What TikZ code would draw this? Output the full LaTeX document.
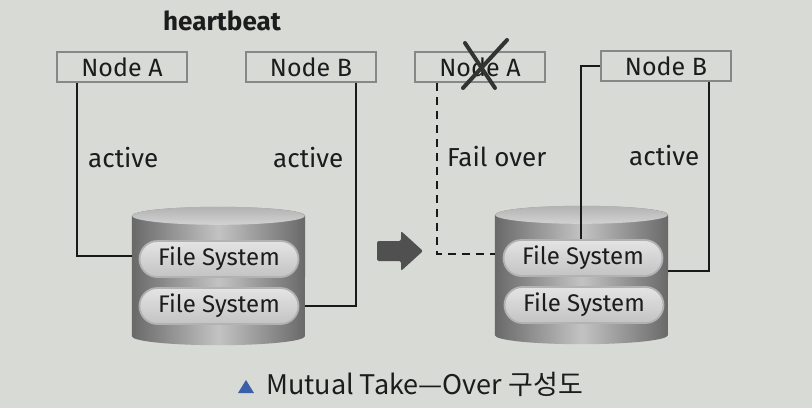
\documentclass[tikz,border=0pt]{standalone}
\usepackage{fontspec}
\setmainfont{Fira Sans}
\newfontfamily\cjkfont{Noto Sans CJK KR}
\usetikzlibrary{calc}
\definecolor{bgc}{RGB}{216,218,214}
\definecolor{txt}{RGB}{28,28,28}
\definecolor{boxline}{RGB}{135,135,135}
\definecolor{cylA}{RGB}{105,105,105}
\definecolor{cylB}{RGB}{195,195,195}
\definecolor{pillT}{RGB}{228,228,228}
\definecolor{pillB}{RGB}{195,195,195}
\definecolor{arrowc}{RGB}{80,80,80}
\definecolor{tri}{RGB}{58,96,165}
\tikzset{
  nodebox/.style={draw=boxline, line width=2.6pt, minimum width=130pt, minimum height=30pt,
     inner sep=0pt, text=txt, font=\fontsize{25}{25}\selectfont},
  pill/.style={draw=gray!60, line width=1.8pt, top color=pillT, bottom color=pillB,
     rounded corners=18pt, minimum width=159pt, minimum height=36pt, inner sep=0pt,
     text=txt, font=\fontsize{24}{24}\selectfont},
  lbl/.style={text=txt, font=\fontsize{26}{26}\selectfont, inner sep=0pt},
  conn/.style={draw=black!90, line width=1.4pt},
  dashconn/.style={conn, dash pattern=on 8pt off 6pt},
  cylbox/.style={minimum width=173pt, minimum height=138pt, inner sep=0pt},
}
\newcommand{\drawcyl}[1]{%
  \path[shade, left color=cylA, right color=cylA, middle color=cylB]
    ($(#1.north west)+(0,9)$) -- ($(#1.south west)+(0,-9)$)
    arc[start angle=180, end angle=360, x radius=86.5pt, y radius=9pt]
    -- ($(#1.north east)+(0,9)$)
    arc[start angle=0, end angle=180, x radius=86.5pt, y radius=9pt] -- cycle;
  \path[shade, top color=gray!60, bottom color=gray!35]
    ($(#1.north)+(0,9)$) ellipse[x radius=86.5pt, y radius=9pt];
}
\begin{document}
\begin{tikzpicture}[x=1pt,y=-1pt]
\useasboundingbox (0,0) rectangle (812,408);
\fill[bgc] (0,0) rectangle (812,408);

% title
\node[lbl, font=\bfseries\fontsize{26}{26}\selectfont] (hb) at (222,21) {heartbeat};

% left nodes
\node[nodebox] (nA1) at (122,67) {Node A};
\node[nodebox] (nB1) at (311,67) {Node B};
% right nodes
\node[nodebox] (nA2) at (480,67) {Node A};
\node[nodebox] (nB2) at (666,66) {Node B};

% cylinders
\node[cylbox] (cyl1) at (218.5,276) {};
\node[cylbox] (cyl2) at (581.5,275) {};
\drawcyl{cyl1}
\drawcyl{cyl2}

% coordinates for connectors
\coordinate (aX) at (77,0);
\coordinate (bX) at (356,0);
\coordinate (cX) at (437,0);
\coordinate (dX) at (581,0);
\coordinate (eX) at (709,0);
\coordinate (eY) at (0,271);

% connectors left
\draw[conn] (nA1.south -| aX) |- (cyl1.west |- 0,256);
\draw[conn] (nB1.south -| bX) |- (cyl1.east |- 0,306);
% connectors right
\draw[dashconn] (nA2.south -| cX) |- (cyl2.west |- 0,254);
\draw[conn] (nB2.west) -| (dX |- 0,240);
\draw[conn] (nB2.south -| eX) |- (cyl2.east |- eY);

% file system pills
\node[pill] (fs1a) at (219,259) {File System};
\node[pill] (fs1b) at (219,306) {File System};
\node[pill] (fs2a) at (583,258) {File System};
\node[pill] (fs2b) at (584,305) {File System};

% labels
\node[lbl, anchor=west] (act1) at (88,158) {active};
\node[lbl, anchor=west] (act2) at (273,158) {active};
\node[lbl, anchor=west] (fo) at (447,157) {Fail over};
\node[lbl, anchor=west] (act3) at (629,156) {active};

% cross on failed node
\draw[line width=4pt, line cap=round, txt!90] (465,43) -- (495,88);
\draw[line width=4pt, line cap=round, txt!90] (507,40) -- (463,88);

% block arrow
\fill[arrowc, rounded corners=2pt] (377,241) -- (401,241) -- (401,231) -- (423,251) -- (401,271) -- (401,261) -- (377,261) -- cycle;

% caption
\fill[tri] (238,393) -- (254,393) -- (246,380) -- cycle;
\node[lbl, anchor=west, font=\cjkfont\fontsize{27}{27}\selectfont] (cap) at (266,384) {Mutual Take—Over 구성도};
\end{tikzpicture}
\end{document}
